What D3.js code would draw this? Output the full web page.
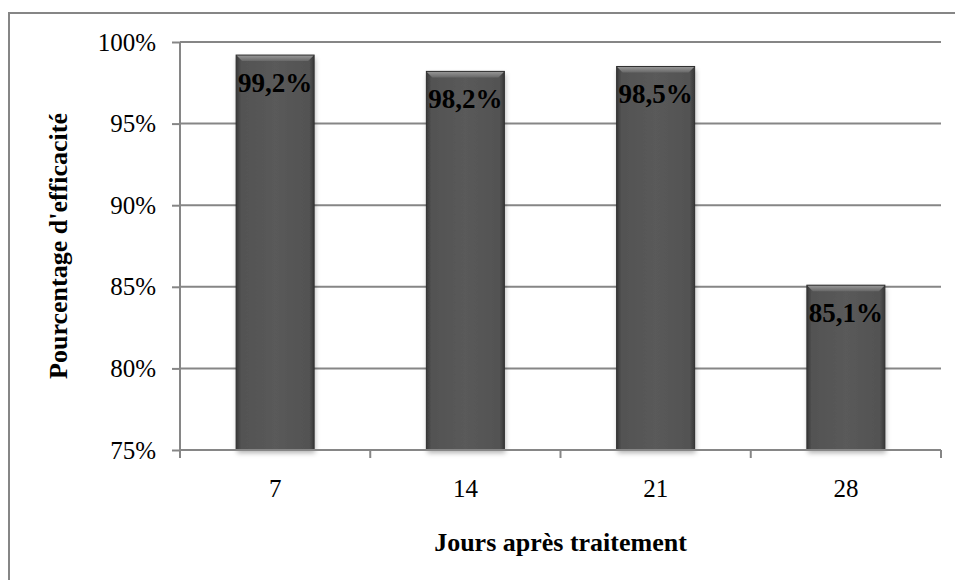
<!DOCTYPE html>
<html><head><meta charset="utf-8">
<script src="https://cdn.jsdelivr.net/npm/d3@7"></script>
<style>html,body{margin:0;padding:0;background:#fff;}svg{display:block;}</style>
</head><body>
<script>
const categories = ["7", "14", "21", "28"];
const values = [99.2, 98.2, 98.5, 85.1];
const labels = ["99,2%", "98,2%", "98,5%", "85,1%"];
const yTicks = [75, 80, 85, 90, 95, 100];

const W = 955, H = 580;
const m = {left: 180, right: 14, top: 42, bottom: 130};
const FONT = "Liberation Serif, Times New Roman, serif";
const svg = d3.select("body").append("svg").attr("width", W).attr("height", H);
const defs = svg.append("defs");

const g1 = defs.append("linearGradient").attr("id", "barH").attr("x1", 0).attr("x2", 1).attr("y1", 0).attr("y2", 0);
[[0, "#383838"], [0.06, "#525252"], [0.5, "#5a5a5a"], [0.94, "#525252"], [1, "#383838"]].forEach(([o, c]) => g1.append("stop").attr("offset", o).attr("stop-color", c));
const g2 = defs.append("linearGradient").attr("id", "barTop").attr("x1", 0).attr("x2", 0).attr("y1", 0).attr("y2", 1);
[[0, "#9a9a9a"], [1, "#686868"]].forEach(([o, c]) => g2.append("stop").attr("offset", o).attr("stop-color", c));
const f = defs.append("filter").attr("id", "sh").attr("x", "-20%").attr("y", "-10%").attr("width", "140%").attr("height", "120%");
f.append("feDropShadow").attr("dx", 1).attr("dy", 3).attr("stdDeviation", 2.5).attr("flood-color", "#000").attr("flood-opacity", 0.3);

svg.append("rect").attr("x", 9).attr("y", 13).attr("width", W).attr("height", H).attr("fill", "none").attr("stroke", "#868686").attr("stroke-width", 2);

const x = d3.scaleBand().domain(categories).range([m.left, W - m.right]).paddingInner(0.59).paddingOuter(0.295);
const xb = d3.scaleBand().domain(categories).range([m.left, W - m.right]);
const y = d3.scaleLinear().domain([75, 100]).range([H - m.bottom, m.top]);

// gridlines
svg.append("g").selectAll("line").data(yTicks.filter(d => d > 75)).join("line")
  .attr("x1", m.left).attr("x2", W - m.right).attr("y1", d => y(d)).attr("y2", d => y(d))
  .attr("stroke", "#868686").attr("stroke-width", 2);

// y axis
const ya = svg.append("g").attr("transform", `translate(${m.left},0)`)
  .call(d3.axisLeft(y).tickValues(yTicks).tickFormat(d => d + "%").tickSize(8).tickPadding(16));
ya.select(".domain").attr("stroke", "#868686").attr("stroke-width", 2).attr("d", `M0,${y(100)}V${y(75)}`);
ya.selectAll(".tick line").attr("stroke", "#868686").attr("stroke-width", 2);
ya.selectAll(".tick text").attr("font-family", FONT).attr("font-size", 25).attr("fill", "#000");

// bars
const bars = svg.append("g").selectAll("g").data(categories).join("g");
bars.append("rect").attr("x", d => x(d)).attr("width", x.bandwidth())
  .attr("y", (d, i) => y(values[i])).attr("height", (d, i) => y(75) - y(values[i]))
  .attr("fill", "url(#barH)").attr("filter", "url(#sh)");
bars.append("path").attr("d", (d, i) => {
  const x0 = x(d), x1 = x0 + x.bandwidth(), t = y(values[i]), b = 6;
  return `M${x0},${t}L${x1},${t}L${x1 - b},${t + b}L${x0 + b},${t + b}Z`;
}).attr("fill", "url(#barTop)");
bars.append("rect").attr("x", d => x(d)).attr("width", x.bandwidth())
  .attr("y", (d, i) => y(values[i])).attr("height", (d, i) => y(75) - y(values[i]))
  .attr("fill", "none").attr("stroke", "#2e2e2e").attr("stroke-width", 1);

bars.append("text").attr("x", d => x(d) + x.bandwidth() / 2).attr("y", (d, i) => y(values[i]) + 37)
  .attr("text-anchor", "middle").attr("font-family", FONT)
  .attr("font-weight", "bold").attr("font-size", 27).attr("fill", "#000").text((d, i) => labels[i]);

// x axis
const xa = svg.append("g").attr("transform", `translate(0,${y(75)})`)
  .call(d3.axisBottom(xb).tickSize(0).tickPadding(29));
xa.select(".domain").attr("stroke", "#868686").attr("stroke-width", 2).attr("d", `M${m.left},0H${W - m.right}`);
xa.selectAll(".tick text").attr("font-family", FONT).attr("font-size", 25).attr("fill", "#000");
const xt = [m.left, ...categories.map(c => xb(c) + xb.bandwidth())];
xa.append("g").selectAll("line").data(xt).join("line")
  .attr("x1", d => d).attr("x2", d => d).attr("y1", 0).attr("y2", 8)
  .attr("stroke", "#868686").attr("stroke-width", 2);

// titles
svg.append("text").attr("x", (m.left + W - m.right) / 2).attr("y", 551).attr("text-anchor", "middle")
  .attr("font-family", FONT).attr("font-weight", "bold").attr("font-size", 26)
  .text("Jours après traitement");
svg.append("text").attr("transform", `translate(67,${(y(100) + y(75)) / 2}) rotate(-90)`).attr("text-anchor", "middle")
  .attr("font-family", FONT).attr("font-weight", "bold").attr("font-size", 26)
  .text("Pourcentage d'efficacité");
</script>
</body></html>
